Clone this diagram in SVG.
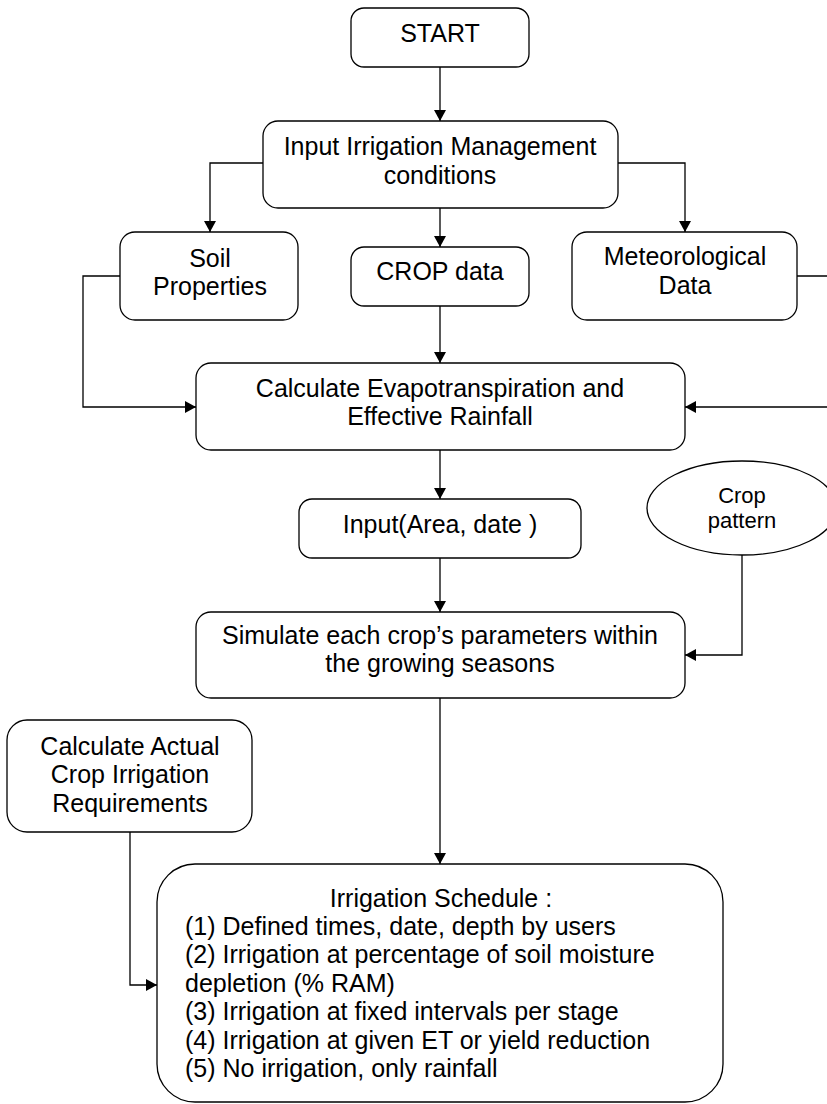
<svg xmlns="http://www.w3.org/2000/svg" width="827" height="1104" viewBox="0 0 827 1104">
<defs>
<marker id="arr" viewBox="0 0 11 12" refX="11" refY="6" markerWidth="11" markerHeight="12" markerUnits="userSpaceOnUse" orient="auto">
<path d="M0,0 L11,6 L0,12 z" fill="#000"/>
</marker>
<style>
.box{fill:#fff;stroke:#000;stroke-width:1.3}
.t{font-family:"Liberation Sans",Arial,sans-serif;font-size:25px;fill:#000;text-anchor:middle}
.l{font-family:"Liberation Sans",Arial,sans-serif;font-size:25px;fill:#000}
.s{font-family:"Liberation Sans",Arial,sans-serif;font-size:22px;fill:#000;text-anchor:middle}
.c{fill:none;stroke:#000;stroke-width:1.3;marker-end:url(#arr)}
.cn{fill:none;stroke:#000;stroke-width:1.3}
</style>
</defs>
<rect width="827" height="1104" fill="#fff"/>
<g id="connectors">
<path class="c" d="M440,67 V121"/>
<path class="c" d="M263,163 H210 V232"/>
<path class="c" d="M440,208 V247"/>
<path class="c" d="M618,163 H685 V232"/>
<path class="c" d="M120,276 H83 V407 H196"/>
<path class="c" d="M440,306 V363"/>
<path class="c" d="M797,276 H840 V407 H685"/>
<path class="c" d="M440,450 V499"/>
<path class="c" d="M440,558 V612"/>
<path class="c" d="M742,555 V655 H685"/>
<path class="c" d="M440,698 V864"/>
<path class="c" d="M130,832 V985 H157"/>
</g>
<g id="start">
<rect class="box" x="351" y="8" width="178" height="59" rx="13"/>
<text class="t" x="440" y="42">START</text>
</g>
<g id="input-irrigation">
<rect class="box" x="263" y="121" width="355" height="87" rx="15"/>
<text class="t" x="440" y="155">Input Irrigation Management</text>
<text class="t" x="440" y="184">conditions</text>
</g>
<g id="soil">
<rect class="box" x="120" y="232" width="178" height="88" rx="15"/>
<text class="t" x="210" y="267">Soil</text>
<text class="t" x="210" y="295">Properties</text>
</g>
<g id="crop-data">
<rect class="box" x="351" y="247" width="178" height="59" rx="13"/>
<text class="t" x="440" y="280">CROP data</text>
</g>
<g id="meteo">
<rect class="box" x="572" y="232" width="225" height="88" rx="15"/>
<text class="t" x="685" y="265">Meteorological</text>
<text class="t" x="685" y="294">Data</text>
</g>
<g id="calc-et">
<rect class="box" x="196" y="363" width="489" height="87" rx="15"/>
<text class="t" x="440" y="397">Calculate Evapotranspiration and</text>
<text class="t" x="440" y="425">Effective Rainfall</text>
</g>
<g id="input-area">
<rect class="box" x="299" y="499" width="282" height="59" rx="13"/>
<text class="t" x="440" y="533">Input(Area, date )</text>
</g>
<g id="crop-pattern">
<ellipse class="box" cx="742" cy="508" rx="95" ry="47"/>
<text class="s" x="742" y="503">Crop</text>
<text class="s" x="742" y="528">pattern</text>
</g>
<g id="simulate">
<rect class="box" x="196" y="612" width="489" height="86" rx="15"/>
<text class="t" x="440" y="644">Simulate each crop’s parameters within</text>
<text class="t" x="440" y="672">the growing seasons</text>
</g>
<g id="calc-actual">
<rect class="box" x="7" y="720" width="245" height="112" rx="20"/>
<text class="t" x="130" y="755">Calculate Actual</text>
<text class="t" x="130" y="783">Crop Irrigation</text>
<text class="t" x="130" y="812">Requirements</text>
</g>
<g id="schedule">
<rect class="box" x="157" y="864" width="566" height="238" rx="38"/>
<text class="t" x="441" y="907">Irrigation Schedule :</text>
<text class="l" x="185" y="935">(1) Defined times, date, depth by users</text>
<text class="l" x="185" y="963">(2) Irrigation at percentage of soil moisture</text>
<text class="l" x="185" y="992">depletion (% RAM)</text>
<text class="l" x="185" y="1020">(3) Irrigation at fixed intervals per stage</text>
<text class="l" x="185" y="1049">(4) Irrigation at given ET or yield reduction</text>
<text class="l" x="185" y="1077">(5) No irrigation, only rainfall</text>
</g>
</svg>
